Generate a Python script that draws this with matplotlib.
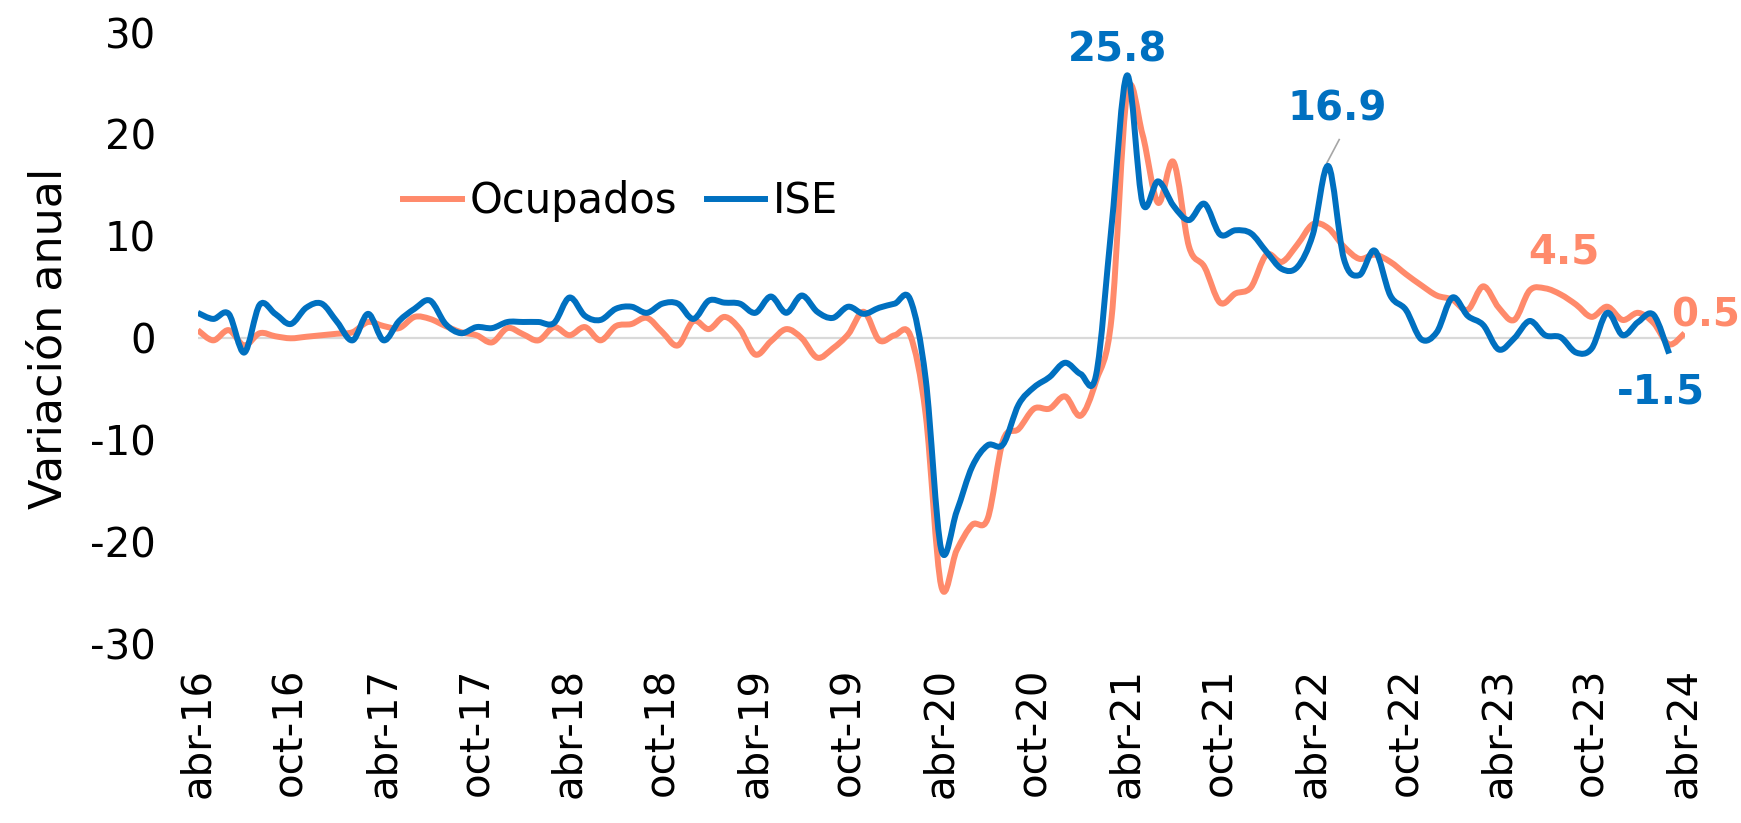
import numpy as np
import matplotlib
matplotlib.use("Agg")
import matplotlib.pyplot as plt
from matplotlib.path import Path
from matplotlib.patches import PathPatch

# Monthly annual variation (%), abr-16 .. abr-24
ise = [2.5, 1.9, 2.4, -1.4, 3.3, 2.4, 1.4, 3.0, 3.4, 1.6, -0.2, 2.4,
       -0.2, 1.7, 2.9, 3.7, 1.4, 0.5, 1.1, 1.0, 1.6, 1.6, 1.6, 1.5,
       4.0, 2.2, 1.8, 2.9, 3.1, 2.5, 3.4, 3.4, 1.9, 3.7, 3.5, 3.4,
       2.5, 4.1, 2.5, 4.2, 2.6, 2.0, 3.1, 2.4, 3.0, 3.4, 3.8, -4.0,
       -20.7, -17.0, -12.6, -10.5, -10.4, -6.5, -4.8, -3.8, -2.4, -3.5, -3.6, 11.0,
       25.8, 13.3, 15.4, 13.0, 11.6, 13.2, 10.2, 10.6, 10.3, 8.5, 6.8, 7.0,
       10.2, 16.9, 7.8, 6.2, 8.6, 4.2, 2.8, -0.1, 0.6, 4.0, 2.2, 1.3,
       -1.1, 0.0, 1.7, 0.3, 0.1, -1.4, -1.0, 2.5, 0.3, 1.6, 2.3, -1.5]

ocupados = [0.8, -0.2, 0.8, -0.7, 0.5, 0.2, 0.0, 0.15, 0.3, 0.45, 0.6, 1.6,
            1.2, 1.0, 2.1, 1.9, 1.2, 0.6, 0.3, -0.4, 1.0, 0.4, -0.2, 1.1,
            0.3, 1.1, -0.2, 1.2, 1.4, 2.0, 0.6, -0.7, 1.7, 0.9, 2.1, 0.9,
            -1.6, -0.3, 0.9, 0.0, -1.9, -1.0, 0.4, 2.6, -0.2, 0.3, 0.3, -7.5,
            -24.3, -20.8, -18.3, -17.7, -10.0, -8.9, -6.9, -6.9, -5.7, -7.6, -4.2, 2.0,
            24.0, 20.0, 13.3, 17.3, 9.0, 7.0, 3.5, 4.4, 5.0, 8.2, 7.5, 9.2,
            11.2, 10.8, 9.0, 7.8, 8.2, 7.5, 6.3, 5.2, 4.2, 3.8, 2.8, 5.1,
            3.0, 1.8, 4.7, 4.9, 4.3, 3.3, 2.1, 3.1, 1.8, 2.5, 1.5, -0.6, 0.5]

tick_pos = list(range(0, 97, 6))
tick_labels = ["abr-16", "oct-16", "abr-17", "oct-17", "abr-18", "oct-18",
               "abr-19", "oct-19", "abr-20", "oct-20", "abr-21", "oct-21",
               "abr-22", "oct-22", "abr-23", "oct-23", "abr-24"]

BLUE = "#0070C0"
ORANGE = "#FF8A6B"


def smooth_path(y):
    # Catmull-Rom through the points, as bezier segments (like Excel smoothed lines)
    x = np.arange(len(y), dtype=float)
    y = np.asarray(y, dtype=float)
    n = len(y)
    verts = [(x[0], y[0])]
    codes = [Path.MOVETO]
    for i in range(n - 1):
        i0 = max(i - 1, 0)
        i3 = min(i + 2, n - 1)
        c1 = (x[i] + (x[i + 1] - x[i0]) / 6, y[i] + (y[i + 1] - y[i0]) / 6)
        c2 = (x[i + 1] - (x[i3] - x[i]) / 6, y[i + 1] - (y[i3] - y[i]) / 6)
        verts += [c1, c2, (x[i + 1], y[i + 1])]
        codes += [Path.CURVE4] * 3
    return Path(verts, codes)


plt.rcParams['font.family'] = ['DejaVu Sans']
plt.rcParams['axes.unicode_minus'] = False

fig = plt.figure(figsize=(17.41, 8.23), dpi=100)
ax = fig.add_axes([0.1136, 0.2175, 0.854, 0.7429])

ax.axhline(0, color="#D9D9D9", lw=1.6, zorder=1)

for vals, col in [(ocupados, ORANGE), (ise, BLUE)]:
    ax.add_patch(PathPatch(smooth_path(vals), facecolor="none", edgecolor=col,
                           lw=4.3, capstyle="butt", joinstyle="round", zorder=3))

# legend handles
ax.plot([], [], color=ORANGE, lw=4.3, label="Ocupados")
ax.plot([], [], color=BLUE, lw=4.3, label="ISE")
ax.legend(loc="upper left", bbox_to_anchor=(0.113, 0.82), ncol=2, frameon=False,
          fontsize=30, handlelength=1.4, handletextpad=0.2, columnspacing=0.7)

ax.set_xlim(0, 96)
ax.set_ylim(-30, 30)
ax.set_yticks(range(-30, 31, 10))
ax.set_xticks(tick_pos)
ax.set_xticklabels(tick_labels, rotation=90)
ax.tick_params(axis="both", length=0, labelsize=29)
ax.tick_params(axis="x", pad=17)
ax.tick_params(axis="y", pad=30)
for s in ax.spines.values():
    s.set_visible(False)
ax.set_ylabel("Variación anual", fontsize=32, labelpad=14)

lab = dict(fontsize=29, fontweight="bold", ha="center", va="center")
ax.text(59.4, 28.2, "25.8", color=BLUE, **lab)
ax.text(73.6, 22.5, "16.9", color=BLUE, **lab)
ax.plot([73.7, 72.9], [19.5, 17.2], color="#A6A6A6", lw=1.2)
ax.text(88.2, 8.4, "4.5", color=ORANGE, **lab)
ax.text(99.6, 2.2, "0.5", color=ORANGE, clip_on=False, fontsize=28,
        fontweight="bold", ha="right", va="center")
ax.text(94.5, -5.3, "-1.5", color=BLUE, **lab)

fig.savefig("out.png", dpi=100)
